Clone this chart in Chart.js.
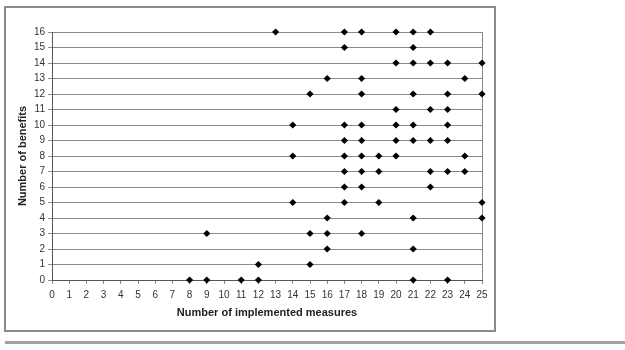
<!DOCTYPE html>
<html>
<head>
<meta charset="utf-8">
<script src="https://cdn.jsdelivr.net/npm/chart.js@4/dist/chart.umd.min.js"></script>
<style>
  html, body { margin: 0; padding: 0; background: #fff; }
  canvas { display: block; }
</style>
</head>
<body>
<canvas id="scatterChart" width="625" height="350"></canvas>
<script>
// measures (x) for each number of benefits (y)
const benefitLevels = [16, 15, 14, 13, 12, 11, 10, 9, 8, 7, 6, 5, 4, 3, 2, 1, 0];
const measuresByLevel = [
    [13, 17, 18, 20, 21, 22],
    [17, 21],
    [20, 21, 22, 23, 25],
    [16, 18, 24],
    [15, 18, 21, 23, 25],
    [20, 22, 23],
    [14, 17, 18, 20, 21, 23],
    [17, 18, 20, 21, 22, 23],
    [14, 17, 18, 19, 20, 24],
    [17, 18, 19, 22, 23, 24],
    [17, 18, 22],
    [14, 17, 19, 25],
    [16, 21, 25],
    [9, 15, 16, 18],
    [16, 21],
    [12, 15],
    [8, 9, 11, 12, 21, 23]
];
const xTitle = 'Number of implemented measures';
const yTitle = 'Number of benefits';

const points = [];
benefitLevels.forEach((y, i) => {
    measuresByLevel[i].forEach(x => points.push({ x: x, y: y }));
});

// outer frame and the rule under it
const framePlugin = {
    id: 'frame',
    beforeDraw(chart) {
        const c = chart.ctx;
        c.save();
        c.fillStyle = '#fff';
        c.fillRect(0, 0, chart.width, chart.height);
        c.strokeStyle = '#8a8a8a';
        c.lineWidth = 2;
        c.strokeRect(5, 7, 490, 324);
        c.strokeStyle = '#a0a0a0';
        c.lineWidth = 3;
        c.beginPath();
        c.moveTo(5, 342.5);
        c.lineTo(625, 342.5);
        c.stroke();
        c.restore();
    }
};

const ctx = document.getElementById('scatterChart').getContext('2d');
new Chart(ctx, {
    type: 'scatter',
    data: {
        datasets: [{
            data: points,
            pointStyle: 'rectRot',
            pointRadius: 3.6,
            backgroundColor: '#000',
            borderColor: '#000',
            borderWidth: 0,
            clip: false
        }]
    },
    options: {
        responsive: false,
        animation: false,
        layout: { padding: { left: 5, right: 143, top: 32, bottom: 20 } },
        plugins: {
            legend: { display: false },
            tooltip: { enabled: false }
        },
        scales: {
            x: {
                type: 'linear',
                min: 0,
                max: 25,
                afterFit: scale => { scale.height = 50; },
                ticks: {
                    stepSize: 1,
                    autoSkip: false,
                    maxRotation: 0,
                    padding: 5,
                    color: '#333',
                    font: { family: 'Liberation Sans, Arial, sans-serif', size: 10 }
                },
                grid: {
                    drawOnChartArea: true,
                    color: c => (c.tick && c.tick.value === 25) ? '#8a8a8a' : 'rgba(0,0,0,0)',
                    tickColor: '#8a8a8a',
                    tickLength: 4
                },
                border: { color: '#555', width: 1 },
                title: {
                    display: true,
                    text: xTitle,
                    color: '#222',
                    padding: { top: 4, bottom: 10 },
                    font: { family: 'Liberation Sans, Arial, sans-serif', size: 11, weight: 'bold' }
                }
            },
            y: {
                min: 0,
                max: 16,
                afterFit: scale => { scale.width = 47; },
                ticks: {
                    stepSize: 1,
                    padding: 3,
                    color: '#333',
                    font: { family: 'Liberation Sans, Arial, sans-serif', size: 10 }
                },
                grid: {
                    color: '#8a8a8a',
                    tickColor: '#8a8a8a',
                    tickLength: 4
                },
                border: { color: '#555', width: 1 },
                title: {
                    display: true,
                    text: yTitle,
                    color: '#222',
                    padding: { top: 11, bottom: 0 },
                    font: { family: 'Liberation Sans, Arial, sans-serif', size: 11, weight: 'bold' }
                }
            }
        }
    },
    plugins: [framePlugin]
});
</script>
</body>
</html>
